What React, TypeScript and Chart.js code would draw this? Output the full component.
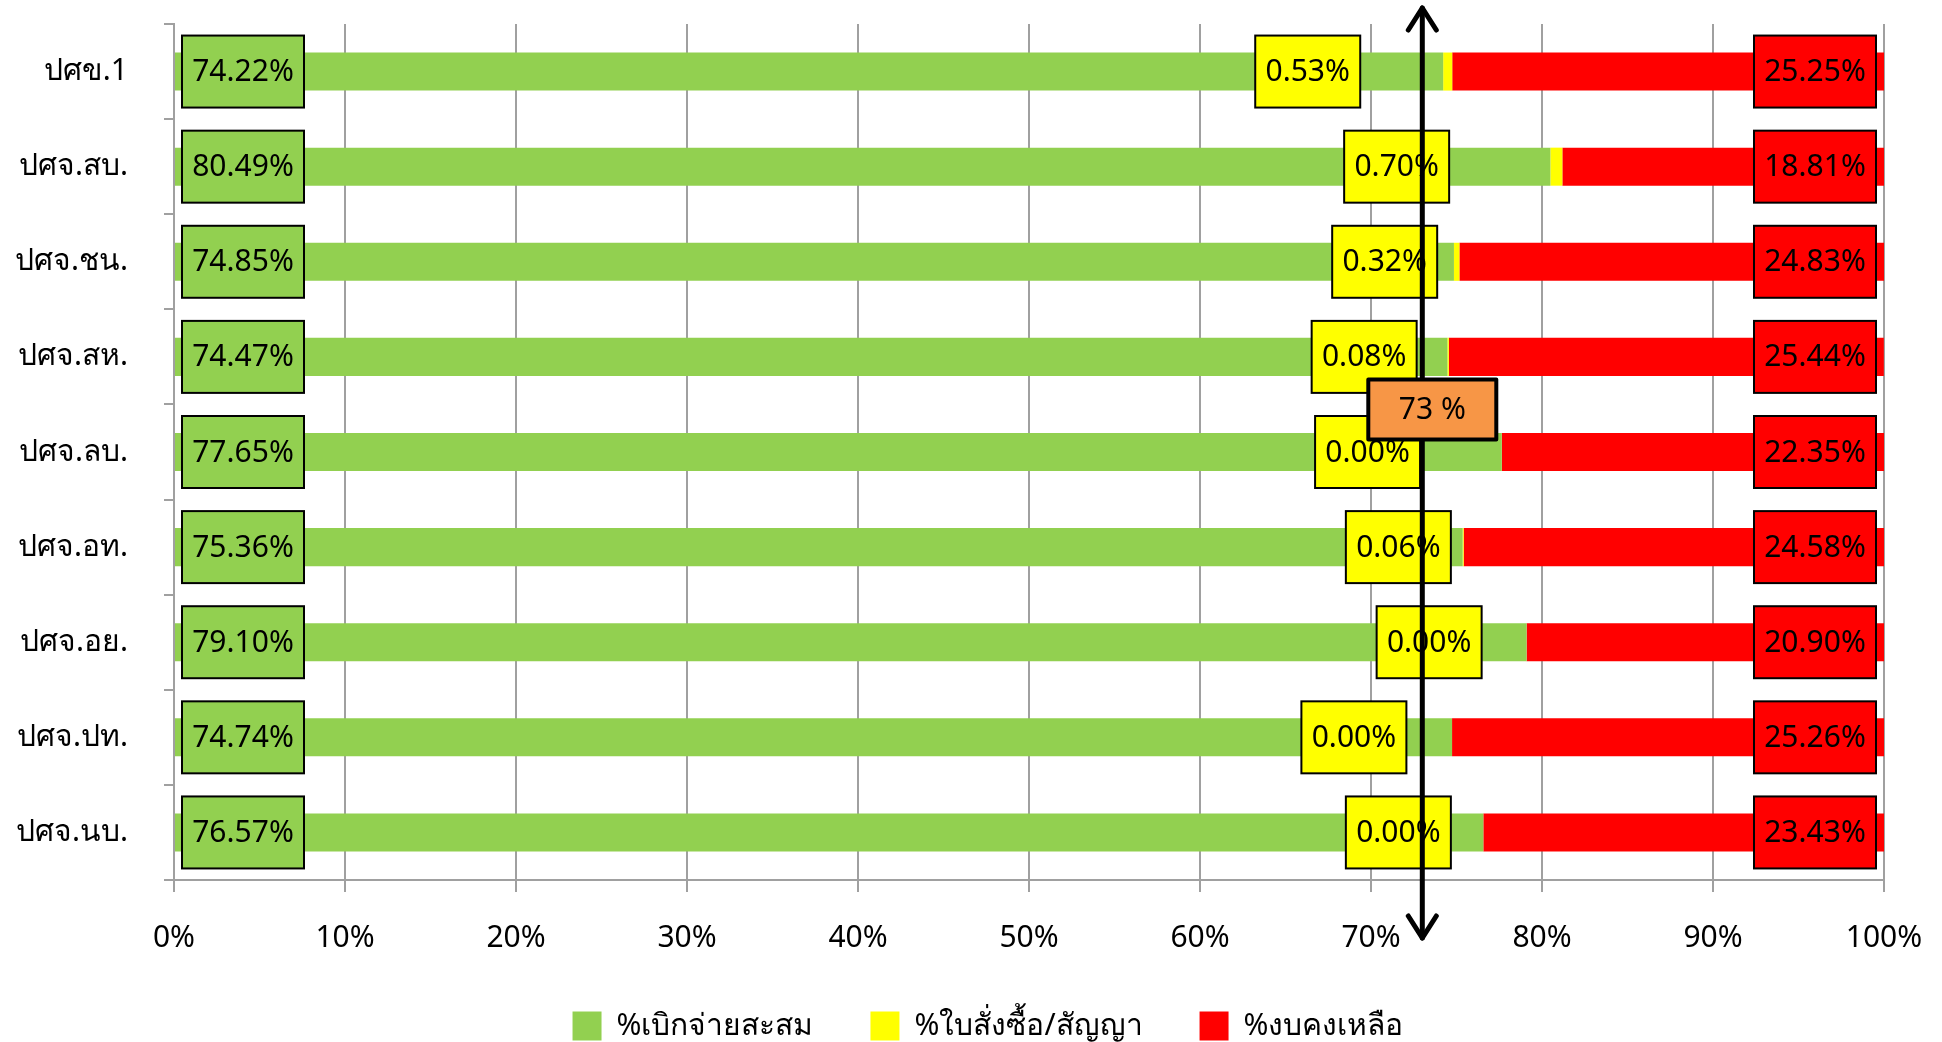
import React, { useEffect, useRef } from "react";
import { Chart, registerables } from "chart.js";

Chart.register(...registerables);

// ---------------- data ----------------
const categories = [
  "ปศข.1",
  "ปศจ.สบ.",
  "ปศจ.ชน.",
  "ปศจ.สห.",
  "ปศจ.ลบ.",
  "ปศจ.อท.",
  "ปศจ.อย.",
  "ปศจ.ปท.",
  "ปศจ.นบ.",
];
const disbursed = [74.22, 80.49, 74.85, 74.47, 77.65, 75.36, 79.1, 74.74, 76.57];
const committed = [0.53, 0.7, 0.32, 0.08, 0.0, 0.06, 0.0, 0.0, 0.0];
const remaining = [25.25, 18.81, 24.83, 25.44, 22.35, 24.58, 20.9, 25.26, 23.43];
const seriesNames = ["%เบิกจ่ายสะสม", "%ใบสั่งซื้อ/สัญญา", "%งบคงเหลือ"];
const xTickValues = [0, 10, 20, 30, 40, 50, 60, 70, 80, 90, 100];
const targetValue = 73;

// ---------------- layout / style ----------------
// where (in axis %) the small yellow labels were placed in the original
const committedLabelAt = [66.3, 71.5, 70.8, 69.6, 69.8, 71.6, 73.4, 69.0, 71.6];

const FONT = '"Noto Sans", "DejaVu Sans", sans-serif';
const GREEN = "#92D050";
const YELLOW = "#FFFF00";
const RED = "#FF0000";
const ORANGE = "#F79646";
const GRID = "#A0A0A0";
const LEGEND_SHIFT = 46;

const fmt = (v: number) => v.toFixed(2) + "%";

const overlayPlugin = {
  id: "overlayLabels",
  afterLayout(chart: any) {
    const lg = chart.legend;
    if (lg) {
      lg.left += LEGEND_SHIFT;
      lg.right += LEGEND_SHIFT;
    }
  },
  afterDatasetsDraw(chart: any) {
    const ctx = chart.ctx as CanvasRenderingContext2D;
    const xs = chart.scales.x;
    const ys = chart.scales.y;
    const area = chart.chartArea;
    ctx.save();
    ctx.font = `30px ${FONT}`;
    ctx.textAlign = "center";
    ctx.textBaseline = "middle";

    const box = (cx: number, cy: number, w: number, h: number, fill: string, text: string, lw = 2) => {
      ctx.fillStyle = fill;
      ctx.fillRect(cx - w / 2, cy - h / 2, w, h);
      ctx.lineWidth = lw;
      ctx.strokeStyle = "#000";
      ctx.strokeRect(cx - w / 2, cy - h / 2, w, h);
      ctx.fillStyle = "#000";
      ctx.fillText(text, cx, cy + 1);
    };

    const x0 = xs.getPixelForValue(0);
    const x100 = xs.getPixelForValue(100);
    categories.forEach((_, i) => {
      const cy = ys.getPixelForValue(i);
      box(x0 + 8 + 61, cy, 122, 72, GREEN, fmt(disbursed[i]));
      box(xs.getPixelForValue(committedLabelAt[i]), cy, 105, 72, YELLOW, fmt(committed[i]));
      box(x100 - 8 - 61, cy, 122, 72, RED, fmt(remaining[i]));
    });

    // target arrow
    const tx = xs.getPixelForValue(targetValue);
    const top = area.top - 18;
    const bottom = area.bottom + 60;
    ctx.strokeStyle = "#000";
    ctx.lineWidth = 5;
    ctx.lineCap = "round";
    ctx.lineJoin = "round";
    ctx.beginPath();
    ctx.moveTo(tx, top + 2);
    ctx.lineTo(tx, bottom - 2);
    ctx.stroke();
    ctx.beginPath();
    ctx.moveTo(tx - 14, top + 24);
    ctx.lineTo(tx, top + 2);
    ctx.lineTo(tx + 14, top + 24);
    ctx.moveTo(tx - 14, bottom - 24);
    ctx.lineTo(tx, bottom - 2);
    ctx.lineTo(tx + 14, bottom - 24);
    ctx.stroke();

    // target box
    const by = (ys.getPixelForValue(3) + ys.getPixelForValue(4)) / 2 + 5;
    box(tx + 10, by, 128, 60, ORANGE, `${targetValue} %`, 4);
    ctx.restore();
  },
};

export default function App() {
  const ref = useRef<HTMLCanvasElement | null>(null);

  useEffect(() => {
    document.body.style.margin = "0";
    document.body.style.overflow = "hidden";
    if (!ref.current) return;
    const chart = new Chart(ref.current, {
      type: "bar",
      data: {
        labels: categories,
        datasets: [
          { label: seriesNames[0], data: disbursed, backgroundColor: GREEN, borderWidth: 0 },
          { label: seriesNames[1], data: committed, backgroundColor: YELLOW, borderWidth: 0 },
          { label: seriesNames[2], data: remaining, backgroundColor: RED, borderWidth: 0 },
        ],
      },
      options: {
        indexAxis: "y",
        animation: false,
        responsive: false,
        devicePixelRatio: 1,
        layout: { padding: { top: 24, right: 58, left: 0, bottom: -9 } },
        datasets: { bar: { barPercentage: 0.4, categoryPercentage: 1 } },
        scales: {
          x: {
            stacked: true,
            min: 0,
            max: 100,
            afterBuildTicks: (s: any) => {
              s.ticks = xTickValues.map((v) => ({ value: v }));
            },
            afterFit: (s: any) => {
              s.height = 74;
              s.paddingLeft = 0;
              s.paddingRight = 0;
            },
            ticks: {
              callback: (v: any) => v + "%",
              color: "#000",
              font: { family: FONT, size: 30 },
              padding: 28,
              maxRotation: 0,
              autoSkip: false,
            },
            grid: { color: GRID, lineWidth: 2, drawTicks: true, tickLength: 12, tickColor: GRID },
            border: { display: true, color: GRID, width: 2 },
          },
          y: {
            stacked: true,
            afterFit: (s: any) => {
              s.width = 174;
              s.paddingTop = 0;
              s.paddingBottom = 0;
            },
            ticks: {
              color: "#000",
              font: { family: FONT, size: 30 },
              padding: 36,
            },
            grid: {
              drawOnChartArea: false,
              drawTicks: true,
              tickLength: 10,
              color: GRID,
              lineWidth: 2,
              offset: true,
            },
            border: { display: true, color: GRID, width: 2 },
          },
        },
        plugins: {
          legend: {
            position: "bottom",
            labels: {
              color: "#000",
              font: { family: FONT, size: 30 },
              boxWidth: 29,
              boxHeight: 29,
              padding: 57,
            },
          },
          tooltip: { enabled: false },
        },
      },
      plugins: [overlayPlugin],
    } as any);
    return () => chart.destroy();
  }, []);

  return (
    <div style={{ width: 1942, height: 1042, position: "relative", background: "#fff" }}>
      <canvas ref={ref} width={1942} height={1042} style={{ display: "block" }} />
    </div>
  );
}
